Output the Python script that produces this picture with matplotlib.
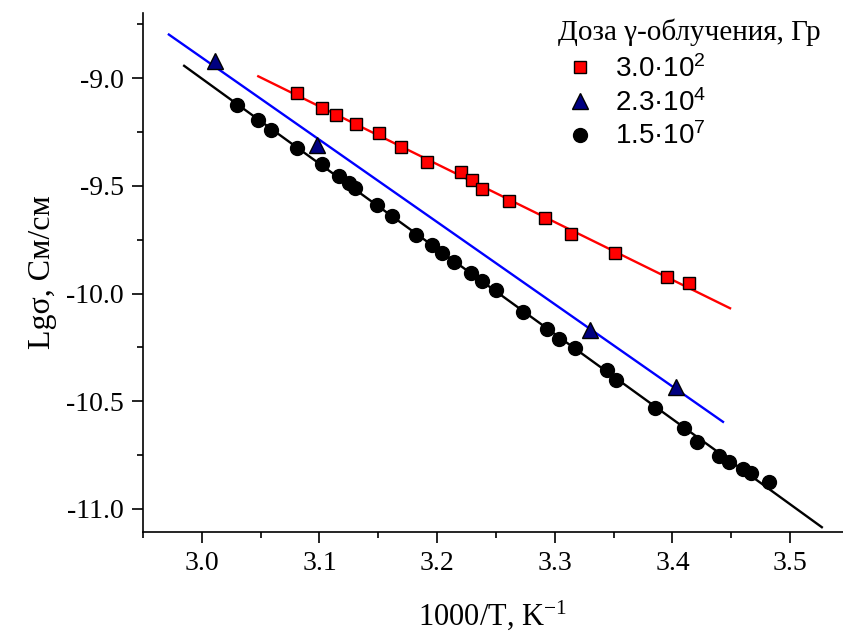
import numpy as np
import matplotlib.pyplot as plt

# 1000/T (K^-1) and lg(sigma) values
x_red = [3.081, 3.102, 3.114, 3.131, 3.151, 3.169, 3.191, 3.220, 3.230, 3.238,
         3.261, 3.292, 3.314, 3.351, 3.395, 3.414]
y_red = [-9.071, -9.138, -9.172, -9.213, -9.257, -9.319, -9.391, -9.438, -9.473, -9.514,
         -9.569, -9.650, -9.725, -9.813, -9.923, -9.951]

x_blue = [3.011, 3.098, 3.330, 3.403]
y_blue = [-8.921, -9.311, -10.169, -10.432]

x_black = [3.030, 3.048, 3.059, 3.081, 3.102, 3.117, 3.125, 3.130, 3.149, 3.162,
           3.182, 3.196, 3.204, 3.214, 3.229, 3.238, 3.250, 3.273, 3.293, 3.304,
           3.317, 3.344, 3.352, 3.385, 3.410, 3.421, 3.440, 3.448, 3.460, 3.467, 3.482]
y_black = [-9.124, -9.194, -9.241, -9.326, -9.399, -9.455, -9.489, -9.508, -9.589, -9.640,
           -9.727, -9.777, -9.810, -9.852, -9.906, -9.940, -9.985, -10.086, -10.165, -10.211,
           -10.251, -10.355, -10.401, -10.533, -10.626, -10.690, -10.753, -10.781, -10.814, -10.834, -10.873]

# range of the fitted lines
red_range = [3.048, 3.449]
blue_range = [2.972, 3.443]
black_range = [2.985, 3.527]

labels = ['3.0·10$\\mathregular{^2}$', '2.3·10$\\mathregular{^4}$', '1.5·10$\\mathregular{^7}$']
legend_title = 'Доза γ-облучения, Гр'

serif = 'Liberation Serif'
sans = 'Liberation Sans'

fig = plt.figure(figsize=(8.43, 6.37), dpi=100)
ax = fig.add_axes([0.1696, 0.1648, 0.8304, 0.8148])

for xs, ys, rng, col in [(x_red, y_red, red_range, '#ff0000'),
                         (x_blue, y_blue, blue_range, '#0000ff'),
                         (x_black, y_black, black_range, 'black')]:
    k, b = np.polyfit(xs, ys, 1)
    xx = np.array(rng)
    ax.plot(xx, k * xx + b, color=col, lw=1.7, zorder=2)

ax.plot(x_red, y_red, 's', ms=9, mfc='#ff0000', mec='black', mew=1.0, ls='none',
        label=labels[0], zorder=3)
ax.plot(x_blue, y_blue, '^', ms=11, mfc='#000080', mec='black', mew=1.0, ls='none',
        label=labels[1], zorder=3)
ax.plot(x_black, y_black, 'o', ms=10, mfc='black', mec='black', ls='none',
        label=labels[2], zorder=3)

ax.set_xlim(2.951, 3.545)
ax.set_ylim(-11.107, -8.698)
ax.set_xticks([3.0, 3.1, 3.2, 3.3, 3.4, 3.5])
ax.set_xticks(np.arange(2.95, 3.55, 0.05), minor=True)
ax.set_yticks([-9.0, -9.5, -10.0, -10.5, -11.0])
ax.set_yticks(np.arange(-11.0, -8.7, 0.25), minor=True)
ax.set_xticklabels(['3.0', '3.1', '3.2', '3.3', '3.4', '3.5'])
ax.set_yticklabels(['-9.0', '-9.5', '-10.0', '-10.5', '-11.0'])

for s in ['top', 'right']:
    ax.spines[s].set_visible(False)
for s in ['left', 'bottom']:
    ax.spines[s].set_linewidth(1.2)
ax.tick_params(which='major', direction='out', length=8, width=1.2, pad=6)
ax.tick_params(which='minor', direction='out', length=4, width=1.2)
for t in ax.get_xticklabels() + ax.get_yticklabels():
    t.set_fontfamily(serif)
    t.set_fontsize(20)

ax.set_xlabel('1000/T, K$\\mathregular{^{-1}}$', fontfamily=serif, fontsize=22, labelpad=16)
ax.set_ylabel('Lgσ, См/см', fontfamily=serif, fontsize=23, labelpad=6)

leg = ax.legend(loc='upper left', bbox_to_anchor=(558 / 843, 1 - 19 / 637),
                bbox_transform=fig.transFigure, frameon=False,
                prop={'family': sans, 'size': 20}, title=legend_title,
                title_fontproperties={'family': serif, 'size': 21},
                handlelength=1.6, handletextpad=0.45, labelspacing=0.22,
                borderpad=0, borderaxespad=0)
leg._legend_box.align = 'left'
leg._legend_box.sep = 6

fig.savefig('out.png', dpi=100)
